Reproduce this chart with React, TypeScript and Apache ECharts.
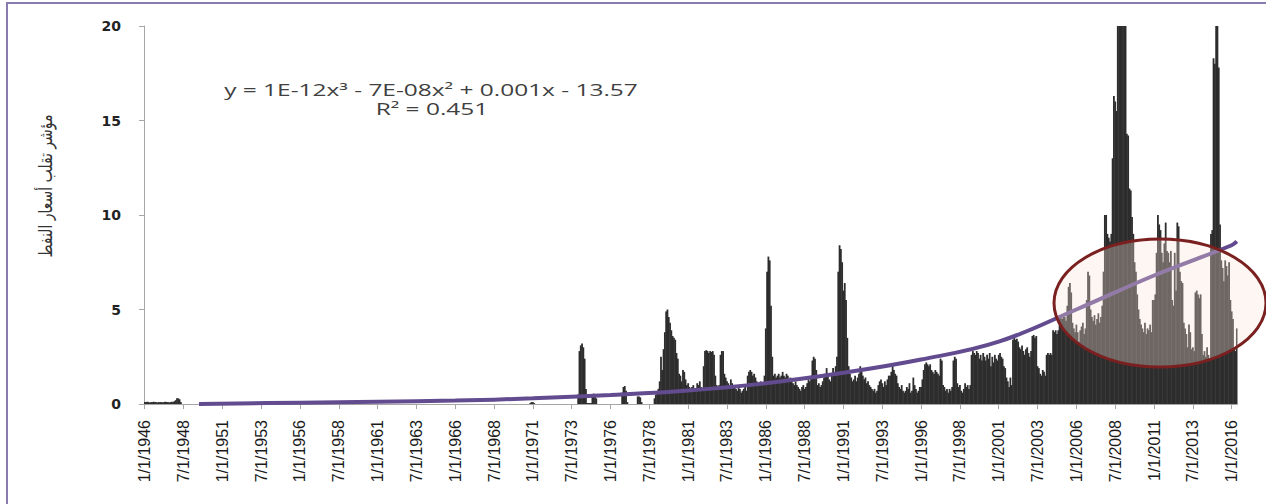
import React, { useEffect, useRef } from "react";
import * as echarts from "echarts";

// Monthly oil price volatility index, Jan 1946 – May 2016
const v1940s = [
  0.1, 0.1, 0.12, 0.1, 0.08, 0.1, 0.1, 0.12, 0.1, 0.1, 0.08, 0.1, // 1946
  0.1, 0.1, 0.08, 0.1, 0.12, 0.1, 0.1, 0.08, 0.1, 0.12, 0.1, 0.15, // 1947
  0.2, 0.3, 0.3, 0.25, 0.1, 0, 0, 0, 0, 0, 0, 0, // 1948
  0, 0, 0, 0, 0, 0, 0, 0, 0, 0, 0, 0, // 1949
];
const v1950s = [
  0, 0, 0, 0, 0, 0, 0, 0, 0, 0, 0, 0,
  0, 0, 0, 0, 0, 0, 0, 0, 0, 0, 0, 0,
  0, 0, 0, 0, 0, 0, 0, 0, 0, 0, 0, 0,
  0, 0, 0, 0, 0, 0, 0, 0, 0, 0, 0, 0,
  0, 0, 0, 0, 0, 0, 0, 0, 0, 0, 0, 0,
  0, 0, 0, 0, 0, 0, 0, 0, 0, 0, 0, 0,
  0, 0, 0, 0, 0, 0, 0, 0, 0, 0, 0, 0,
  0, 0, 0, 0, 0, 0, 0, 0, 0, 0, 0, 0,
  0, 0, 0, 0, 0, 0, 0, 0, 0, 0, 0, 0,
  0, 0, 0, 0, 0, 0, 0, 0, 0, 0, 0, 0,
];
const v1960s = [
  0, 0, 0, 0, 0, 0, 0, 0, 0, 0, 0, 0,
  0, 0, 0, 0, 0, 0, 0, 0, 0, 0, 0, 0,
  0, 0, 0, 0, 0, 0, 0, 0, 0, 0, 0, 0,
  0, 0, 0, 0, 0, 0, 0, 0, 0, 0, 0, 0,
  0, 0, 0, 0, 0, 0, 0, 0, 0, 0, 0, 0,
  0, 0, 0, 0, 0, 0, 0, 0, 0, 0, 0, 0,
  0, 0, 0, 0, 0, 0, 0, 0, 0, 0, 0, 0,
  0, 0, 0, 0, 0, 0, 0, 0, 0, 0, 0, 0,
  0, 0, 0, 0, 0, 0, 0, 0, 0, 0, 0, 0,
  0, 0, 0, 0, 0, 0, 0, 0, 0, 0, 0, 0,
];
const v1970s = [
  0, 0, 0, 0, 0, 0, 0, 0, 0, 0, 0.05, 0.1, // 1970
  0.1, 0.05, 0, 0, 0, 0, 0, 0, 0, 0, 0, 0, // 1971
  0, 0, 0, 0, 0, 0, 0, 0, 0, 0, 0, 0, // 1972
  0, 0, 0, 0, 0, 0, 0, 0, 0, 0, 0, 0.5, // 1973
  2.8, 3.1, 3.2, 3.0, 2.4, 0.8, 0.05, 0.05, 0.05, 0.05, 0.5, 0.55, // 1974
  0.5, 0.3, 0, 0, 0, 0, 0, 0, 0, 0, 0, 0, // 1975
  0, 0, 0, 0, 0, 0, 0, 0, 0, 0.6, 0.9, 0.95, // 1976
  0.7, 0.1, 0, 0, 0, 0, 0, 0, 0, 0.4, 0.4, 0.35, // 1977
  0.1, 0, 0, 0, 0, 0, 0, 0, 0, 0, 0.3, 0.5, // 1978
  0.6, 0.8, 1.2, 2.5, 1.8, 2.9, 3.8, 4.9, 5.0, 4.6, 4.3, 3.9, // 1979
];
const v1980s = [
  3.6, 3.5, 3.4, 2.7, 2.4, 1.6, 1.5, 1.2, 1.8, 1.7, 1.3, 1.0, // 1980
  1.1, 0.9, 0.8, 0.9, 1.0, 0.8, 0.7, 1.1, 1.0, 1.2, 0.9, 0.7, // 1981
  2.0, 2.8, 2.85, 2.8, 2.7, 2.8, 2.75, 2.8, 2.6, 1.5, 1.0, 0.9, // 1982
  1.0, 2.6, 2.8, 2.8, 1.6, 1.4, 1.2, 1.1, 1.0, 1.3, 1.1, 0.9, // 1983
  0.9, 0.8, 0.7, 0.9, 0.8, 0.6, 0.7, 0.8, 0.9, 0.7, 1.5, 1.7, // 1984
  1.8, 1.7, 1.5, 1.6, 1.4, 1.2, 1.0, 1.1, 1.2, 1.0, 1.1, 1.5, // 1985
  4.0, 7.0, 7.8, 7.6, 5.2, 2.5, 1.5, 1.6, 1.4, 1.5, 1.6, 1.4, // 1986
  1.5, 1.7, 1.5, 1.4, 1.6, 1.5, 1.3, 1.4, 1.2, 1.1, 1.0, 1.2, // 1987
  1.0, 0.9, 0.8, 0.7, 0.9, 1.0, 0.8, 0.9, 1.1, 1.3, 1.2, 1.5, // 1988
  2.3, 2.5, 2.4, 1.8, 1.0, 1.1, 0.9, 1.0, 1.2, 1.4, 1.6, 1.9, // 1989
];
const v1990s = [
  1.6, 1.3, 1.2, 1.5, 1.9, 1.7, 2.0, 2.5, 7.0, 8.4, 8.2, 7.5, // 1990
  6.0, 6.4, 5.5, 3.5, 2.0, 1.6, 1.4, 1.2, 1.3, 1.5, 1.2, 1.4, // 1991
  1.6, 2.0, 1.9, 1.5, 1.3, 1.4, 1.1, 1.2, 1.0, 0.9, 0.8, 0.7, // 1992
  0.8, 0.6, 0.7, 1.0, 1.2, 1.3, 1.1, 0.9, 1.2, 1.0, 1.3, 1.5, // 1993
  1.5, 1.7, 2.0, 1.8, 1.6, 1.5, 1.1, 0.9, 0.8, 1.0, 0.7, 0.6, // 1994
  0.7, 0.9, 0.8, 1.1, 0.6, 0.7, 1.4, 1.0, 0.8, 0.6, 0.7, 0.9, // 1995
  0.9, 1.3, 1.8, 2.1, 2.2, 2.1, 2.0, 2.1, 1.8, 1.7, 1.6, 1.8, // 1996
  1.7, 1.6, 1.5, 2.4, 2.3, 1.0, 0.9, 0.7, 0.8, 0.6, 0.8, 0.7, // 1997
  0.9, 2.3, 2.5, 2.4, 1.1, 0.9, 1.0, 0.7, 0.6, 0.8, 1.1, 0.9, // 1998
  1.0, 0.8, 1.0, 2.6, 2.8, 2.7, 2.6, 2.8, 2.7, 2.4, 2.6, 2.3, // 1999
];
const v2000s = [
  2.7, 2.5, 2.3, 2.6, 2.4, 2.7, 2.0, 2.5, 2.2, 2.6, 2.4, 2.3, // 2000
  2.6, 2.7, 2.5, 2.4, 2.0, 1.9, 1.4, 1.2, 0.9, 1.4, 1.0, 3.4, // 2001
  3.5, 3.4, 3.45, 3.3, 3.0, 2.9, 3.1, 2.8, 2.6, 2.9, 3.0, 2.7, // 2002
  2.5, 2.8, 3.6, 3.65, 3.5, 3.6, 2.0, 1.9, 1.6, 1.5, 1.8, 1.7, // 2003
  1.5, 2.6, 2.7, 2.6, 2.7, 2.6, 3.9, 3.8, 3.9, 3.7, 3.9, 4.5, // 2004
  4.6, 4.5, 4.7, 4.6, 4.4, 5.2, 6.2, 6.4, 5.9, 4.3, 4.0, 3.8, // 2005
  4.2, 3.8, 3.3, 3.9, 4.1, 4.3, 3.7, 4.0, 5.5, 7.0, 6.8, 5.0, // 2006
  4.6, 4.4, 4.7, 4.2, 4.5, 4.8, 4.3, 4.6, 5.2, 7.0, 10.0, 10.0, // 2007
  9.0, 8.8, 8.6, 9.0, 13.0, 16.3, 16.0, 15.5, 20, 20, 20, 20, // 2008
  20, 20, 20, 14.3, 14.2, 11.4, 11.3, 9.9, 9.0, 7.5, 7.0, 5.8, // 2009
];
const v2010s = [
  5.0, 4.5, 4.2, 4.0, 3.8, 4.3, 3.7, 4.0, 3.9, 4.2, 3.8, 5.5, // 2010
  5.5, 5.8, 8.0, 10.0, 9.5, 9.2, 8.0, 7.5, 8.5, 9.6, 8.1, 8.0, // 2011
  7.5, 8.1, 5.5, 5.2, 8.0, 6.0, 9.6, 9.4, 7.0, 6.5, 6.4, 4.3, // 2012
  4.0, 3.7, 3.0, 4.2, 3.8, 2.9, 3.0, 2.8, 5.9, 6.0, 5.8, 5.6, // 2013
  5.8, 3.7, 2.6, 2.8, 2.5, 3.0, 2.6, 2.4, 9.0, 9.2, 18.3, 18.0, // 2014
  20, 20, 17.8, 9.5, 7.6, 7.2, 6.5, 7.6, 7.3, 6.8, 7.5, 5.5, // 2015
  4.9, 4.5, 3.0, 2.8, 4.0, // 2016
];

// Polynomial trend line at these dates
const trendDates = [
  "7/1/1949", "1/1/1956", "1/1/1961", "1/1/1966", "1/1/1971", "1/1/1976", "1/1/1981",
  "1/1/1986", "1/1/1991", "1/1/1996", "1/1/2001", "1/1/2006", "1/1/2011", "1/1/2016", "5/1/2016",
];
const trendValues = [0, 0.07, 0.12, 0.18, 0.3, 0.48, 0.72, 1.1, 1.65, 2.35, 3.3, 5.0, 6.8, 8.4, 8.6];

const START_YEAR = 1946;
const yTicks = { min: 0, max: 20, interval: 5 };
const yAxisTitle = "مؤشر تقلب أسعار النفط";
const equationText = "y = 1E-12x³ - 7E-08x² + 0.001x - 13.57";
const r2Text = "R² = 0.451";

const volatility = [...v1940s, ...v1950s, ...v1960s, ...v1970s, ...v1980s, ...v1990s, ...v2000s, ...v2010s];
const months = volatility.map((_, i) => `${(i % 12) + 1}/1/${START_YEAR + Math.floor(i / 12)}`);

export default function App() {
  const ref = useRef<HTMLDivElement>(null);

  useEffect(() => {
    if (!ref.current) return;
    const chart = echarts.init(ref.current, null, { renderer: "svg" });
    chart.setOption({
      animation: false,
      backgroundColor: "#ffffff",
      grid: { left: 144, right: 28.5, top: 26, bottom: 100, containLabel: false },
      xAxis: {
        type: "category",
        data: months,
        boundaryGap: true,
        axisLine: { show: true, lineStyle: { color: "#a6a6a6", width: 1 } },
        axisTick: { show: true, alignWithLabel: true, interval: 29, length: 5, lineStyle: { color: "#a6a6a6" } },
        axisLabel: {
          interval: 29,
          rotate: 90,
          margin: 16,
          fontFamily: "'Liberation Sans', Arial, sans-serif",
          fontSize: 16,
          color: "#1a1a1a",
        },
        splitLine: { show: false },
      },
      yAxis: {
        type: "value",
        min: yTicks.min,
        max: yTicks.max,
        interval: yTicks.interval,
        axisLine: { show: true, lineStyle: { color: "#a6a6a6", width: 1 } },
        axisTick: { show: true, length: 5, lineStyle: { color: "#a6a6a6" } },
        axisLabel: {
          margin: 23,
          fontFamily: "'DejaVu Sans', sans-serif",
          fontWeight: "bold",
          fontSize: 14,
          color: "#222222",
        },
        splitLine: { show: false },
      },
      series: [
        {
          type: "bar",
          data: volatility,
          barWidth: 1.8,
          itemStyle: { color: "#2d2d2d" },
          clip: true,
          z: 2,
        },
        {
          type: "line",
          data: trendDates.map((d, k) => [d, trendValues[k]]),
          smooth: 0.4,
          symbol: "none",
          connectNulls: true,
          lineStyle: { color: "#624b8f", width: 4 },
          clip: true,
          z: 3,
        },
      ],
      graphic: [
        {
          type: "rect",
          shape: { x: 7, y: 3, width: 1300, height: 600 },
          style: { fill: "none", stroke: "#8a7cb0", lineWidth: 2 },
          silent: true,
          z: 1,
        },
        {
          type: "ellipse",
          shape: { cx: 1160, cy: 303, rx: 106, ry: 64 },
          style: { fill: "rgba(252,228,218,0.32)", stroke: "#7a2020", lineWidth: 3 },
          silent: true,
          z: 100,
        },
        {
          type: "text",
          x: 431,
          y: 90,
          scaleX: 1.53,
          style: {
            text: equationText,
            font: "16px 'Open Sans', sans-serif",
            fill: "#404040",
            align: "center",
            verticalAlign: "middle",
          },
          z: 100,
        },
        {
          type: "text",
          x: 432,
          y: 109,
          scaleX: 1.53,
          style: {
            text: r2Text,
            font: "16px 'Open Sans', sans-serif",
            fill: "#404040",
            align: "center",
            verticalAlign: "middle",
          },
          z: 100,
        },
        {
          type: "text",
          x: 46,
          y: 186,
          rotation: Math.PI / 2,
          scaleY: 1.3,
          style: {
            text: yAxisTitle,
            font: "14px 'DejaVu Sans', sans-serif",
            fill: "#333333",
            align: "center",
            verticalAlign: "middle",
          },
          z: 100,
        },
      ],
    });
    return () => chart.dispose();
  }, []);

  return (
    <div
      ref={ref}
      style={{ position: "absolute", left: 0, top: 0, width: 1266, height: 504, background: "#ffffff" }}
    />
  );
}
